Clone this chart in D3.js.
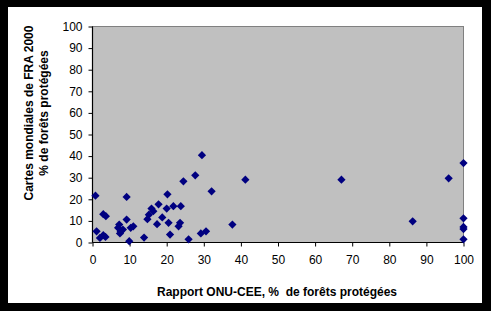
<!DOCTYPE html>
<html><head><meta charset="utf-8">
<script src="https://cdn.jsdelivr.net/npm/d3@7"></script>
<style>html,body{margin:0;padding:0;background:#000;}svg{display:block;}text{font-family:"Liberation Sans",Arial,sans-serif;}</style>
</head><body>
<script>
const xTicks = [0,10,20,30,40,50,60,70,80,90,100];
const yTicks = [0,10,20,30,40,50,60,70,80,90,100];
const xTitle = "Rapport ONU-CEE, %  de forêts protégées";
const yTitle1 = "Cartes mondiales de FRA 2000";
const yTitle2 = "% de forêts protégées";
const unece = [0.8,1.1,2.0,2.9,3.5,2.9,3.6,9.2,9.2,7.2,6.9,7.6,7.4,8.2,10.3,11.0,9.9,13.9,14.8,15.2,15.9,16.4,17.4,17.8,20.2,20.0,21.8,23.8,18.8,20.5,23.6,23.2,20.9,25.9,29.2,30.6,29.5,27.7,24.5,32.1,41.2,37.7,67.1,96.0,100,86.3,100,100,100,100];
const fra = [21.7,5.2,2.1,3.4,2.6,13.1,12.2,21.1,10.6,8.3,6.8,5.2,4.2,6.0,6.8,7.5,0.6,2.3,10.8,12.9,15.7,14.5,8.5,17.7,22.3,15.7,16.8,16.8,11.6,9.1,9.1,7.5,3.7,1.5,4.2,5.2,40.4,31.1,28.3,23.7,29.1,8.3,29.1,29.7,36.8,9.8,11.2,7.2,6.2,1.5];

const W=491,H=311;
const svg=d3.select("body").append("svg").attr("width",W).attr("height",H);
svg.append("rect").attr("width",W).attr("height",H).attr("fill","#000");
svg.append("rect").attr("x",8).attr("y",7).attr("width",474).attr("height",296).attr("fill","#fff");

const L=92.5,R=463.5,T=26.5,B=242.5;
const x=d3.scaleLinear().domain([0,100]).range([L,R]);
const y=d3.scaleLinear().domain([0,100]).range([B,T]);

svg.append("rect").attr("x",L).attr("y",T).attr("width",R-L).attr("height",B-T)
  .attr("fill","#C0C0C0").attr("stroke","#808080").attr("stroke-width",1);

const gx=svg.append("g").attr("transform",`translate(0,${B})`)
  .call(d3.axisBottom(x).tickValues(xTicks).tickSize(4).tickPadding(9).tickFormat(d3.format("d")));
const gy=svg.append("g").attr("transform",`translate(${L},0)`)
  .call(d3.axisLeft(y).tickValues(yTicks).tickSize(4).tickPadding(6).tickFormat(d3.format("d")));
[gx,gy].forEach(g=>{
  g.selectAll("path").attr("stroke","#000").attr("stroke-width",1.2);
  g.selectAll("line").attr("stroke","#000");
  g.selectAll("text").attr("font-size","12px").attr("fill","#000").attr("font-family","'Liberation Sans',Arial,sans-serif");
});
gx.select(".domain").attr("d",`M${L},0H${R}`);
gy.select(".domain").attr("d",`M0,${B}V${T}`);

const sym=d3.symbol().type(d3.symbolSquare).size(34);
svg.append("g").selectAll("path").data(unece.map((v,i)=>[v,fra[i]])).join("path")
  .attr("d",sym).attr("fill","#000080")
  .attr("transform",d=>`translate(${x(d[0])},${y(d[1])}) rotate(45)`);

svg.append("text").attr("x",(L+R)/2-1).attr("y",296).attr("text-anchor","middle")
  .attr("font-size","12px").attr("font-weight","bold").style("white-space","pre").text(xTitle);
const yt=svg.append("text").attr("transform","translate(33,113) rotate(-90)").attr("text-anchor","middle")
  .attr("font-size","12px").attr("font-weight","bold");
yt.append("tspan").attr("x",0).attr("y",0).text(yTitle1);
yt.append("tspan").attr("x",0).attr("y",15).text(yTitle2);
</script>
</body></html>
